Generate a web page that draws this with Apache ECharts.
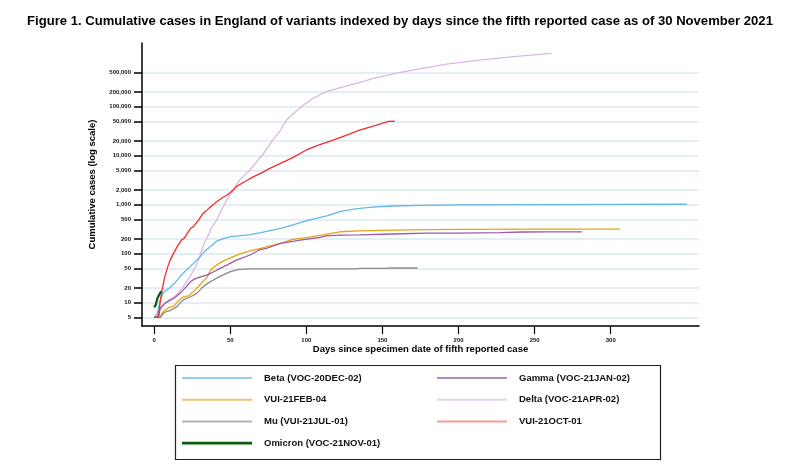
<!DOCTYPE html>
<html><head><meta charset="utf-8">
<script src="https://cdn.jsdelivr.net/npm/echarts@6/dist/echarts.min.js"></script>
<style>html,body{margin:0;padding:0;background:#fff}#c{width:800px;height:470px}</style>
</head><body><div id="c"></div>
<script>
const titleText = 'Figure 1. Cumulative cases in England of variants indexed by days since the fifth reported case as of 30 November 2021';
const yTickValues = [5, 10, 20, 50, 100, 200, 500, 1000, 2000, 5000, 10000, 20000, 50000, 100000, 200000, 500000];
const xTickValues = [0, 50, 100, 150, 200, 250, 300];

const betaDays   = [0, 2, 4, 6, 8, 10, 13, 17, 21, 26, 30, 33, 37, 41, 45, 50, 56, 63, 70, 77, 83, 88, 95, 102, 108, 114, 122, 130, 138, 146, 157, 175, 200, 250, 300, 350];
const betaValues = [5, 6, 11, 16, 18, 20, 24, 34, 46, 64, 85, 110, 140, 180, 200, 222, 232, 245, 268, 300, 330, 360, 420, 490, 540, 600, 720, 800, 860, 900, 940, 970, 995, 1005, 1012, 1020];

const febDays   = [0, 4, 5, 7, 10, 13, 16, 19, 23, 26, 30, 33, 35, 37, 39, 41, 46, 52, 56, 61, 65, 70, 76, 83, 91, 100, 110, 122, 135, 157, 180, 201, 250, 306];
const febValues = [5, 5, 6, 7, 8, 8.5, 11, 13, 14, 17, 23, 29, 34, 46, 52, 59, 72, 87, 98, 110, 118, 129, 145, 163, 195, 212, 240, 280, 293, 303, 310, 314, 316, 318];

const muDays   = [0, 4, 6, 8, 11, 15, 19, 24, 28, 32, 37, 43, 50, 56, 63, 133, 135, 153, 155, 173];
const muValues = [5, 5, 6, 6.6, 7, 8.3, 11.4, 13.2, 15.5, 21, 27, 34, 43, 48, 49, 49, 50, 50, 51, 51];

const omicronDays   = [0, 1, 2, 3, 4, 5];
const omicronValues = [8, 9, 12, 14, 16, 17];

const gammaDays   = [0, 2, 4, 7, 10, 13, 17, 21, 24, 27, 31, 35, 41, 48, 54, 63, 69, 74, 83, 92, 96, 109, 113, 122, 135, 157, 179, 201, 227, 242, 260, 281];
const gammaValues = [5, 5, 7.7, 9.7, 11, 12.3, 15.5, 21, 27, 31, 34, 37, 46, 59, 74, 94, 119, 129, 163, 180, 190, 216, 230, 240, 242, 252, 262, 263, 270, 277, 278, 278];

const deltaDays   = [0, 2, 4, 6, 9, 13, 16, 19, 23, 26, 29, 32, 35, 38, 41, 44, 48, 52, 56, 60, 63, 68, 72, 78, 83, 87, 92, 98, 104, 113, 126, 135, 144, 161, 170, 192, 214, 236, 261];
const deltaValues = [5, 5, 7, 9, 11, 13, 16, 21, 32, 46, 70, 140, 220, 350, 480, 750, 1300, 2000, 3170, 4200, 5100, 8000, 11200, 21000, 33000, 53500, 74000, 107000, 147000, 203000, 264000, 310000, 378000, 494000, 560000, 740000, 890000, 1050000, 1230000];

const octDays   = [0, 3, 4, 5, 7, 9, 10.5, 13, 15, 18, 20, 22, 24, 26, 29, 32, 34, 36, 41, 45, 48, 52, 54, 60, 65, 70, 76, 83, 90, 100, 108, 118, 126, 135, 145, 154, 158];
const octValues = [5, 5, 11, 17, 34, 55, 74, 105, 138, 190, 210, 270, 330, 360, 480, 660, 740, 850, 1150, 1400, 1580, 2000, 2340, 3000, 3700, 4350, 5500, 6950, 8800, 13100, 16500, 21000, 26000, 33200, 41000, 50000, 50400];

const seriesNames  = ['Beta (VOC-20DEC-02)', 'VUI-21FEB-04', 'Mu (VUI-21JUL-01)', 'Omicron (VOC-21NOV-01)', 'Gamma (VOC-21JAN-02)', 'Delta (VOC-21APR-02)', 'VUI-21OCT-01'];
const seriesColors = ['#62b8e6', '#e8a317', '#8a8a8a', '#0b5e0b', '#9a5ba6', '#d9b6e3', '#f22c2c'];
const legendColors = ['#93cdec', '#efc070', '#b4b4b4', '#0b5e0b', '#ad8bba', '#e6d3ec', '#f79a9a'];
const seriesWidths = [1.3, 1.3, 1.3, 2.2, 1.3, 1.3, 1.3];
const legendCol1 = [0, 1, 2, 3];
const legendCol2 = [4, 5, 6];

const allDays = [betaDays, febDays, muDays, omicronDays, gammaDays, deltaDays, octDays];
const allValues = [betaValues, febValues, muValues, omicronValues, gammaValues, deltaValues, octValues];

const FONT = "'Liberation Sans Narrow', 'Liberation Sans', Arial, sans-serif";
const log10 = v => Math.log10(v);
const fmt = v => Math.round(Math.pow(10, v)).toLocaleString('en-US');

const series = seriesNames.map((name, i) => ({
  name: name,
  type: 'line',
  symbol: 'none',
  z: i === 3 ? 10 : 5 - (i === 5 ? 1 : 0),
  lineStyle: { color: seriesColors[i], width: seriesWidths[i] },
  itemStyle: { color: seriesColors[i] },
  data: allDays[i].map((d, j) => [d, log10(allValues[i][j])])
}));

const legendBase = {
  orient: 'vertical', padding: 0, itemWidth: 70, itemHeight: 14, itemGap: 11.7,
  selectedMode: false,
  textStyle: { fontFamily: "'Liberation Sans', Arial, sans-serif", fontSize: 9.5, fontWeight: 'bold', color: '#111', padding: [0, 0, 0, 7] }
};
const legendItem = i => ({ name: seriesNames[i], icon: 'path://M0,0 L70,0 L70,' + (i === 3 ? 2.6 : 2) + ' L0,' + (i === 3 ? 2.6 : 2) + ' Z', itemStyle: { color: legendColors[i] } });

const chart = echarts.init(document.getElementById('c'), null, { renderer: 'canvas' });
chart.setOption({
  backgroundColor: '#fff',
  animation: false,
  title: {
    text: titleText, left: 'center', top: 10,
    textStyle: { fontFamily: "'Liberation Sans', Arial, sans-serif", fontSize: 13.1, fontWeight: 'bold', color: '#000' }
  },
  grid: { left: 142, right: 101, top: 43, bottom: 144, containLabel: false },
  xAxis: {
    type: 'value', min: -8, max: 358,
    name: 'Days since specimen date of fifth reported case',
    nameLocation: 'middle', nameGap: 18, nameMoveOverlap: false,
    nameTextStyle: { fontFamily: "'Liberation Sans', Arial, sans-serif", fontSize: 9.5, fontWeight: 'bold', color: '#000', verticalAlign: 'top' },
    axisLine: { show: true, onZero: false, lineStyle: { color: '#000', width: 1.5 } },
    axisTick: { show: true, length: 8, customValues: xTickValues, lineStyle: { color: '#000', width: 1.2 } },
    axisLabel: { customValues: xTickValues, margin: 11, fontFamily: FONT, fontSize: 6, fontWeight: 'bold', color: '#111' },
    splitLine: { show: false }
  },
  yAxis: {
    type: 'value', min: 0.524, max: 6.30,
    name: 'Cumulative cases (log scale)',
    nameLocation: 'middle', nameGap: 45, nameRotate: 90, nameMoveOverlap: false,
    nameTextStyle: { fontFamily: "'Liberation Sans', Arial, sans-serif", fontSize: 9.5, fontWeight: 'bold', color: '#000' },
    axisLine: { show: true, onZero: false, lineStyle: { color: '#000', width: 1.5 } },
    axisTick: { show: true, length: 8, customValues: yTickValues.map(log10), lineStyle: { color: '#000', width: 1.5 } },
    axisLabel: { customValues: yTickValues.map(log10), margin: 11, formatter: fmt, fontFamily: FONT, fontSize: 6, fontWeight: 'bold', color: '#111' },
    splitLine: { show: true, lineStyle: { color: '#dce9ee', width: 1.5 } }
  },
  legend: [
    Object.assign({}, legendBase, { left: 182, top: 373, data: legendCol1.map(legendItem) }),
    Object.assign({}, legendBase, { left: 437, top: 373, data: legendCol2.map(legendItem) })
  ],
  graphic: [{
    type: 'rect', left: 173, top: 363, silent: true,
    shape: { width: 485, height: 94 },
    style: { fill: 'none', stroke: '#222', lineWidth: 1.2 }
  }],
  series: series
});
</script>
</body></html>
